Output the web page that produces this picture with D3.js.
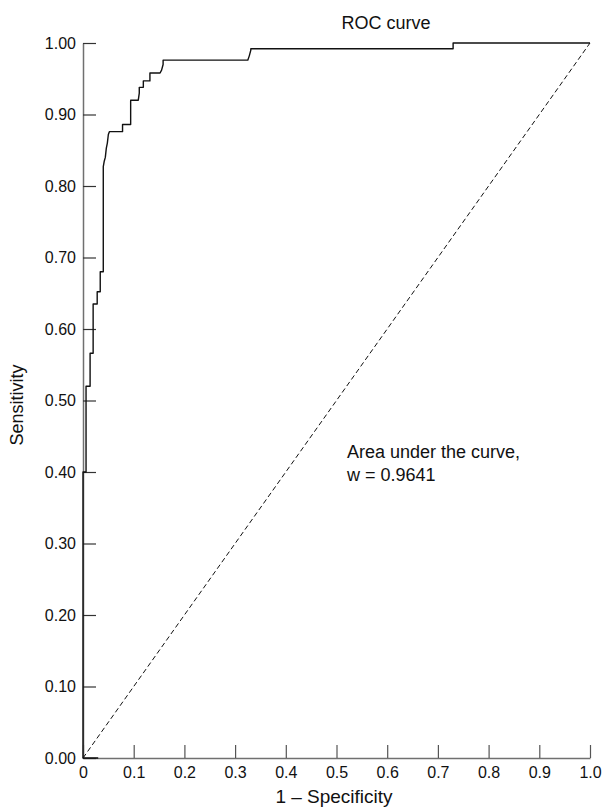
<!DOCTYPE html>
<html>
<head>
<meta charset="utf-8">
<script src="https://cdn.jsdelivr.net/npm/d3@7"></script>
<style>
  html, body { margin: 0; padding: 0; background: #fff; }
  svg { display: block; font-family: "Liberation Sans", Arial, sans-serif; }
</style>
</head>
<body>
<svg id="chart" width="603" height="810"></svg>
<script>
// ---- data ----
const fpr = [0.03, 0, 0, 0.006, 0.006, 0.014, 0.014, 0.020, 0.020, 0.028, 0.028, 0.034, 0.034,
  0.040, 0.040, 0.042, 0.044, 0.046, 0.048, 0.050, 0.052, 0.056, 0.078, 0.078, 0.094, 0.094,
  0.109, 0.111, 0.111, 0.119, 0.119, 0.132, 0.132, 0.152, 0.155, 0.158, 0.158,
  0.325, 0.328, 0.331, 0.331, 0.730, 0.730, 1.0];
const tpr = [0, 0, 0.40, 0.40, 0.52, 0.52, 0.566, 0.566, 0.635, 0.635, 0.652, 0.652, 0.68,
  0.68, 0.827, 0.835, 0.84, 0.853, 0.86, 0.872, 0.876, 0.876, 0.876, 0.886, 0.886, 0.920,
  0.920, 0.93, 0.938, 0.938, 0.947, 0.947, 0.958, 0.958, 0.962, 0.97, 0.976,
  0.976, 0.982, 0.99, 0.992, 0.992, 1.0, 1.0];
const diagX = [0, 1];
const diagY = [0, 1];
const xTicks = [0, 0.1, 0.2, 0.3, 0.4, 0.5, 0.6, 0.7, 0.8, 0.9, 1.0];
const xTickLabels = ["0", "0.1", "0.2", "0.3", "0.4", "0.5", "0.6", "0.7", "0.8", "0.9", "1.0"];
const yTicks = [0, 0.1, 0.2, 0.3, 0.4, 0.5, 0.6, 0.7, 0.8, 0.9, 1.0];
const yTickLabels = ["0.00", "0.10", "0.20", "0.30", "0.40", "0.50", "0.60", "0.70", "0.80", "0.90", "1.00"];
const title = "ROC curve";
const xTitle = "1 – Specificity";
const yTitle = "Sensitivity";
const annotation = ["Area under the curve,", "w = 0.9641"];

// ---- layout ----
const svg = d3.select("#chart");
const x = d3.scaleLinear().domain([0, 1]).range([83, 590]);
const y = d3.scaleLinear().domain([0, 1]).range([758, 43]);

const axisColor = "#707070";

// x axis
const gx = svg.append("g")
  .attr("transform", `translate(0,${y(0)})`)
  .call(d3.axisBottom(x).tickValues(xTicks)
    .tickFormat((d, i) => xTickLabels[i])
    .tickSizeInner(-13).tickSizeOuter(0).tickPadding(9));
gx.select(".domain").attr("stroke", axisColor).attr("stroke-width", 1.5);
gx.selectAll(".tick line").attr("stroke", "#555").attr("stroke-width", 1.2);
gx.selectAll(".tick text").attr("font-size", 16).attr("fill", "#111")
  .attr("font-family", "Liberation Sans, Arial, sans-serif");

// y axis
const gy = svg.append("g")
  .attr("transform", `translate(${x(0)},0)`)
  .call(d3.axisLeft(y).tickValues(yTicks)
    .tickFormat((d, i) => yTickLabels[i])
    .tickSizeInner(-13).tickSizeOuter(0).tickPadding(7));
gy.select(".domain").attr("stroke", axisColor).attr("stroke-width", 1.5);
gy.selectAll(".tick line").attr("stroke", "#333").attr("stroke-width", 1.2);
gy.selectAll(".tick text").attr("font-size", 16).attr("fill", "#111")
  .attr("font-family", "Liberation Sans, Arial, sans-serif");

// diagonal
const diag = diagX.map((d, i) => [d, diagY[i]]);
svg.append("path")
  .datum(diag)
  .attr("fill", "none")
  .attr("stroke", "#111")
  .attr("stroke-width", 1)
  .attr("stroke-dasharray", "5,3")
  .attr("d", d3.line().x(d => x(d[0])).y(d => y(d[1])));

// ROC curve
const roc = fpr.map((d, i) => [d, tpr[i]]);
svg.append("path")
  .datum(roc)
  .attr("fill", "none")
  .attr("stroke", "#111")
  .attr("stroke-width", 1.4)
  .attr("stroke-linejoin", "round")
  .attr("d", d3.line().x(d => x(d[0])).y(d => y(d[1])));

// title
svg.append("text")
  .attr("x", 386).attr("y", 29)
  .attr("text-anchor", "middle")
  .attr("font-size", 18).attr("fill", "#111")
  .text(title);

// x title
svg.append("text")
  .attr("x", 334).attr("y", 803)
  .attr("text-anchor", "middle")
  .attr("font-size", 19).attr("fill", "#111")
  .text(xTitle);

// y title
svg.append("text")
  .attr("transform", "translate(23,405) rotate(-90)")
  .attr("text-anchor", "middle")
  .attr("font-size", 18).attr("fill", "#111")
  .text(yTitle);

// annotation
svg.append("text")
  .attr("x", 347).attr("y", 458)
  .attr("font-size", 18).attr("fill", "#111")
  .text(annotation[0]);
svg.append("text")
  .attr("x", 347).attr("y", 481)
  .attr("font-size", 18).attr("fill", "#111")
  .text(annotation[1]);
</script>
</body>
</html>
